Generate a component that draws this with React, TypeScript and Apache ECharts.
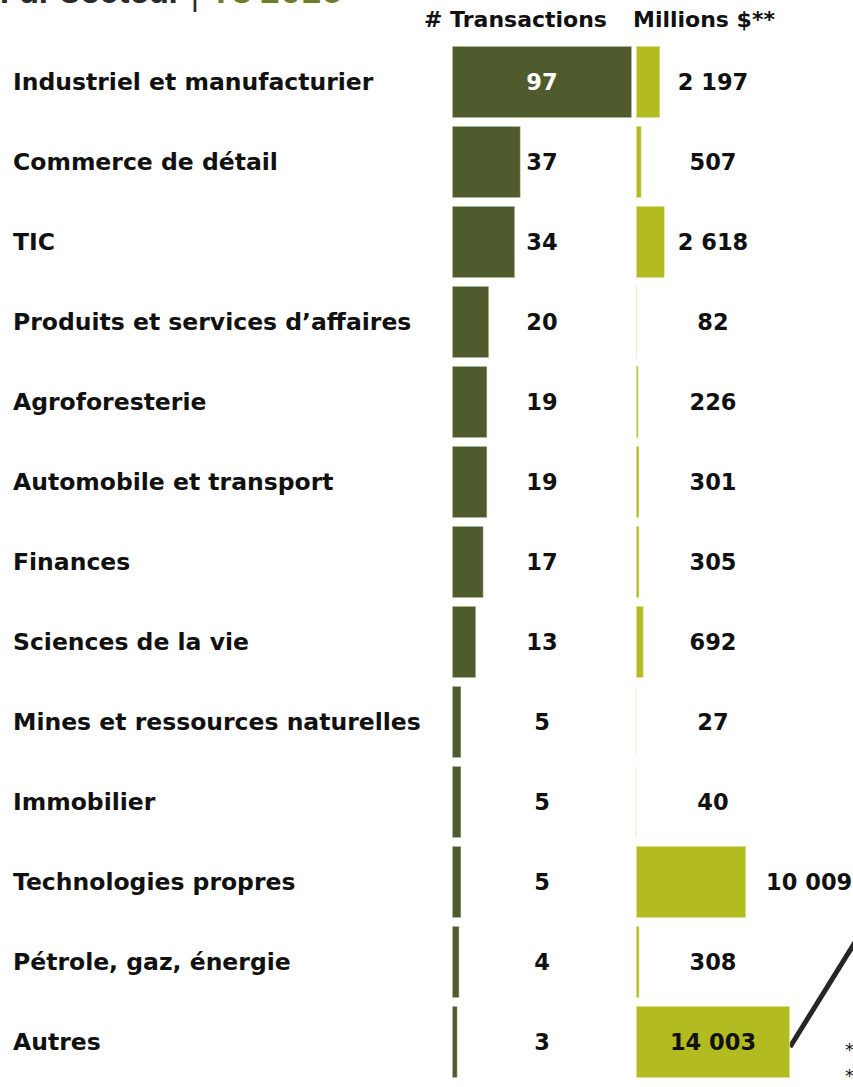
import React, { useEffect, useRef } from "react";
import * as echarts from "echarts";

const categories = [
  "Industriel et manufacturier",
  "Commerce de détail",
  "TIC",
  "Produits et services d’affaires",
  "Agroforesterie",
  "Automobile et transport",
  "Finances",
  "Sciences de la vie",
  "Mines et ressources naturelles",
  "Immobilier",
  "Technologies propres",
  "Pétrole, gaz, énergie",
  "Autres",
];
const transactions = [97, 37, 34, 20, 19, 19, 17, 13, 5, 5, 5, 4, 3];
const millions = [2197, 507, 2618, 82, 226, 301, 305, 692, 27, 40, 10009, 308, 14003];

const headers = ["# Transactions", "Millions $**"];
const titleMain = "Par Secteur";
const titlePeriod = "T3 2025";

const DARK = "#4f5a2d";
const LIME = "#b2bb1f";
const TEXT = "#111111";
const FONT = "DejaVu Sans";

const fmt = (n: number) => String(n).replace(/\B(?=(\d{3})+(?!\d))/g, " ");

export default function App() {
  const ref = useRef<HTMLDivElement>(null);
  useEffect(() => {
    if (!ref.current) return;
    const chart = echarts.init(ref.current, null, { renderer: "svg" });
    const tMax = Math.max(...transactions);
    const mMax = Math.max(...millions);
    const mPlacement = (v: number) =>
      v >= mMax * 0.95 ? "center" : v * 2 > mMax ? "right" : "center";

    const labelBase = {
      fontFamily: FONT,
      fontWeight: 700,
      fontSize: 22.5,
      color: TEXT,
    };

    chart.setOption({
      animation: false,
      backgroundColor: "#ffffff",
      grid: [
        { left: 452, top: 42, width: 180, height: 1040 },
        { left: 636, top: 42, width: 154, height: 1040 },
      ],
      xAxis: [
        { gridIndex: 0, type: "value", min: 0, max: tMax, show: false },
        { gridIndex: 1, type: "value", min: 0, max: mMax, show: false },
      ],
      yAxis: [
        {
          gridIndex: 0,
          type: "category",
          inverse: true,
          data: categories,
          axisLine: { show: false },
          axisTick: { show: false },
          axisLabel: {
            align: "left",
            margin: 439,
            fontFamily: FONT,
            fontWeight: 700,
            fontSize: 23.5,
            color: TEXT,
          },
        },
        {
          gridIndex: 1,
          type: "category",
          inverse: true,
          data: categories,
          show: false,
        },
      ],
      series: [
        {
          type: "bar",
          xAxisIndex: 0,
          yAxisIndex: 0,
          data: transactions,
          barWidth: 72,
          itemStyle: { color: DARK, borderColor: "#e8ebd8", borderWidth: 0.6 },
          silent: true,
        },
        {
          type: "bar",
          xAxisIndex: 0,
          yAxisIndex: 0,
          barWidth: 72,
          barGap: "-100%",
          silent: true,
          itemStyle: { color: "rgba(0,0,0,0)" },
          data: transactions.map((v) => ({
            value: tMax,
            label: {
              show: true,
              position: "inside",
              formatter: String(v),
              ...labelBase,
              color: v * 2 > tMax ? "#ffffff" : TEXT,
            },
          })),
          z: 5,
        },
        {
          type: "bar",
          xAxisIndex: 1,
          yAxisIndex: 1,
          barWidth: 72,
          silent: true,
          itemStyle: { color: LIME, borderColor: "#eef0cf", borderWidth: 0.6 },
          data: millions.map((v) => ({
            value: v,
            label: {
              show: mPlacement(v) === "right",
              position: "right",
              distance: 20,
              formatter: fmt(v),
              ...labelBase,
            },
          })),
        },
        {
          type: "bar",
          xAxisIndex: 1,
          yAxisIndex: 1,
          barWidth: 72,
          barGap: "-100%",
          silent: true,
          itemStyle: { color: "rgba(0,0,0,0)" },
          data: millions.map((v) => ({
            value: mMax,
            label: {
              show: mPlacement(v) === "center",
              position: "inside",
              formatter: fmt(v),
              ...labelBase,
            },
          })),
          z: 5,
        },
      ],
      graphic: [
        {
          type: "text",
          left: 0,
          top: -26,
          style: {
            text: `{a|${titleMain} }{b|| }{c|${titlePeriod}}`,
            rich: {
              a: { fontFamily: "Inter", fontWeight: 700, fontSize: 32, fill: "#2b2b2b" },
              b: { fontFamily: "Inter", fontWeight: 400, fontSize: 34, fill: "#2b2b2b" },
              c: { fontFamily: "Inter", fontWeight: 700, fontSize: 32, fill: "#6f7d2a" },
            },
          },
        },
        {
          type: "text",
          left: 424,
          top: 8,
          style: {
            text: headers[0],
            fontFamily: FONT,
            fontWeight: 700,
            fontSize: 22,
            fill: TEXT,
          },
        },
        {
          type: "text",
          left: 633,
          top: 8,
          style: {
            text: headers[1],
            fontFamily: FONT,
            fontWeight: 700,
            fontSize: 22,
            fill: TEXT,
          },
        },
        {
          type: "line",
          shape: { x1: 790, y1: 1047, x2: 870, y2: 918 },
          style: { stroke: "#262626", lineWidth: 5 },
        },
        {
          type: "text",
          left: 845,
          top: 1040,
          style: { text: "*", fontFamily: FONT, fontSize: 18, fill: TEXT },
        },
        {
          type: "text",
          left: 845,
          top: 1066,
          style: { text: "*", fontFamily: FONT, fontSize: 18, fill: TEXT },
        },
      ],
    });
    return () => chart.dispose();
  }, []);
  return (
    <div
      ref={ref}
      style={{ position: "fixed", left: 0, top: 0, width: 853, height: 1087 }}
    />
  );
}
